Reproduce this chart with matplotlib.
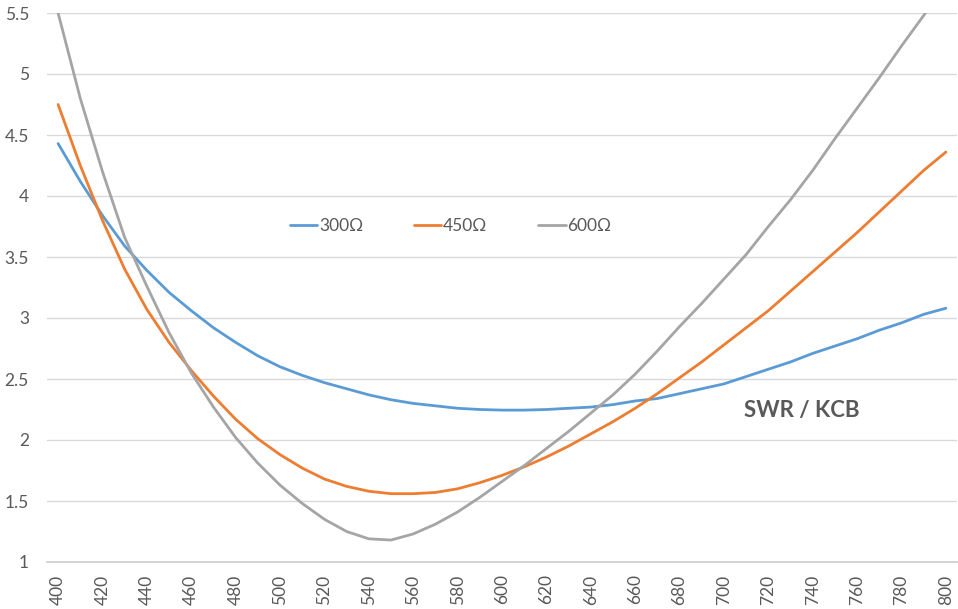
import matplotlib
matplotlib.use("Agg")
import matplotlib.pyplot as plt

freq = list(range(400, 801, 10))
x_ticks = list(range(400, 801, 20))
y_ticks = [1, 1.5, 2, 2.5, 3, 3.5, 4, 4.5, 5, 5.5]
y_tick_labels = ["1", "1.5", "2", "2.5", "3", "3.5", "4", "4.5", "5", "5.5"]

swr_300 = [4.43, 4.12, 3.84, 3.59, 3.39, 3.21, 3.06, 2.92, 2.80, 2.69,
           2.60, 2.53, 2.47, 2.42, 2.37, 2.33, 2.30, 2.28, 2.26, 2.25,
           2.245, 2.245, 2.25, 2.26, 2.27, 2.29, 2.32, 2.34, 2.38, 2.42,
           2.46, 2.52, 2.58, 2.64, 2.71, 2.77, 2.83, 2.90, 2.96, 3.03, 3.08]
swr_450 = [4.75, 4.25, 3.80, 3.40, 3.07, 2.80, 2.57, 2.36, 2.17, 2.01,
           1.88, 1.77, 1.68, 1.62, 1.58, 1.56, 1.56, 1.57, 1.60, 1.65,
           1.71, 1.78, 1.86, 1.95, 2.05, 2.15, 2.26, 2.38, 2.51, 2.64,
           2.78, 2.92, 3.06, 3.22, 3.38, 3.54, 3.70, 3.87, 4.04, 4.21, 4.36]
swr_600 = [5.50, 4.80, 4.20, 3.66, 3.26, 2.88, 2.55, 2.27, 2.02, 1.81,
           1.63, 1.48, 1.35, 1.25, 1.19, 1.18, 1.23, 1.31, 1.41, 1.53,
           1.66, 1.79, 1.93, 2.07, 2.22, 2.37, 2.54, 2.73, 2.93, 3.12,
           3.32, 3.52, 3.75, 3.97, 4.21, 4.47, 4.72, 4.97, 5.23, 5.48, 5.74]

series_names = ["300Ω", "450Ω", "600Ω"]
colors = ["#5B9BD5", "#ED7D31", "#A5A5A5"]
annotation = "SWR / KCB"

plt.rcParams['font.family'] = ['Lato', 'DejaVu Sans']

W, H = 958, 609
fig = plt.figure(figsize=(W / 100, H / 100), dpi=100)
ax = fig.add_axes([47 / W, (H - 562) / H, (957 - 47) / W, (562 - 13) / H])

for vals, name, c in zip([swr_300, swr_450, swr_600], series_names, colors):
    ax.plot(freq, vals, color=c, lw=2.0, label=name, solid_capstyle='round')

ax.set_xlim(395, 805)
ax.set_ylim(1, 5.5)
ax.set_xticks(x_ticks)
ax.set_xticklabels([str(v) for v in x_ticks], rotation=90)
ax.set_yticks(y_ticks)
ax.set_yticklabels(y_tick_labels)
ax.tick_params(axis='both', length=0, labelsize=12.5, colors='#595959')
ax.tick_params(axis='y', pad=13)
ax.tick_params(axis='x', pad=9)

ax.grid(axis='y', color='#D9D9D9', lw=1.0)
ax.set_axisbelow(True)
for s in ['top', 'right', 'left']:
    ax.spines[s].set_visible(False)
ax.spines['bottom'].set_color('#D0D0D0')
ax.spines['bottom'].set_linewidth(1.3)

leg = ax.legend(loc='center', bbox_to_anchor=(450.5 / W, (H - 226) / H),
                bbox_transform=fig.transFigure, ncol=3, frameon=False,
                fontsize=12.5, handlelength=1.6, handletextpad=0.1,
                columnspacing=2.9)
for t in leg.get_texts():
    t.set_color('#595959')

fig.text(802 / W, (H - 411) / H, annotation, fontsize=16, fontweight='bold',
         color='#595959', ha='center', va='center')

fig.savefig("out.png", dpi=100)
